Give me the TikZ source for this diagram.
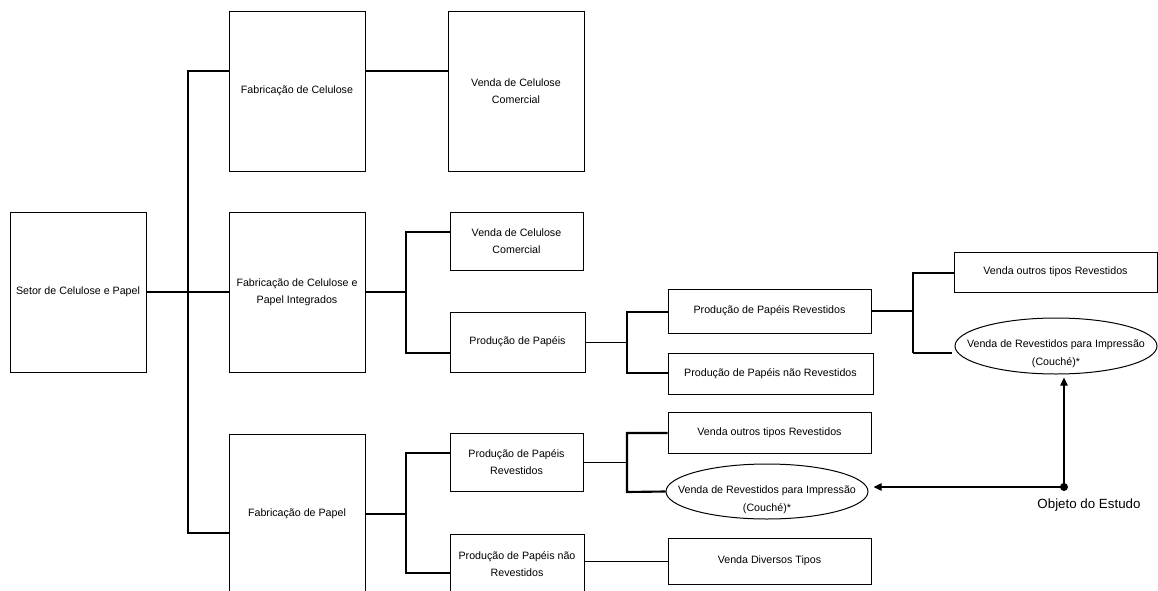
\documentclass[tikz,border=0pt]{standalone}
\usepackage{fontspec}
\setmainfont{Liberation Sans}
\usetikzlibrary{shapes.geometric,arrows.meta}
\tikzset{
  box/.style={draw, line width=0.75pt, rectangle, inner sep=0pt, align=center,
              font=\fontsize{8}{12.5}\selectfont},
  ell/.style={draw, line width=0.75pt, ellipse, inner sep=0pt},
  etxt/.style={align=center, inner sep=0pt, font=\fontsize{8}{13.5}\selectfont},
  thk/.style={line width=1.6pt},
  thn/.style={line width=0.6pt},
  arr/.style={line width=1pt, -{Triangle[length=6pt,width=5.5pt]}},
}
\begin{document}
\begin{tikzpicture}[x=0.75pt,y=-0.75pt]
\useasboundingbox (0,0) rectangle (1158,590);
\clip (0,0) rectangle (1158,590);
\fill[white] (0,0) rectangle (1158,590);

% column 1
\node[box, minimum width=102pt, minimum height=120pt] (setor) at (78,292) {Setor de Celulose e Papel};
% column 2
\node[box, minimum width=102pt, minimum height=120pt] (fabcel) at (297,91) {Fabricação de Celulose};
\node[box, minimum width=102pt, minimum height=120pt] (integ) at (297,292) {Fabricação de Celulose e\\Papel Integrados};
\node[box, minimum width=102pt, minimum height=120pt] (fabpap) at (297,514) {Fabricação de Papel};
% column 3
\node[box, minimum width=102pt, minimum height=120pt] (vcc1) at (516,91) {Venda de Celulose\\Comercial};
\node[box, minimum width=99.75pt, minimum height=43.5pt] (vcc2) at (516.5,241) {Venda de Celulose\\Comercial};
\node[box, minimum width=101.25pt, minimum height=45pt] (pp) at (517.5,342) {Produção de Papéis};
\node[box, minimum width=99.75pt, minimum height=43.5pt] (ppr2) at (516.5,462) {Produção de Papéis\\Revestidos};
\node[box, minimum width=100.5pt, minimum height=45pt] (ppnr2) at (517,564) {Produção de Papéis não\\Revestidos};
% column 4
\node[box, minimum width=152.25pt, minimum height=33pt] (ppr1) at (769.5,311) {Produção de Papéis Revestidos};
\node[box, minimum width=153.75pt, minimum height=30.75pt] (ppnr1) at (770.5,373.5) {Produção de Papéis não Revestidos};
\node[box, minimum width=152.25pt, minimum height=30.75pt] (vot2) at (769.5,432.5) {Venda outros tipos Revestidos};
\node[ell, minimum width=151.5pt, minimum height=41.25pt,
      label={[etxt, yshift=-6pt]center:Venda de Revestidos para Impressão\\(Couché)*}] (ell2) at (767,491.5) {};
\node[box, minimum width=152.25pt, minimum height=34.5pt] (vdt) at (769.5,561) {Venda Diversos Tipos};
% column 5
\node[box, minimum width=152.25pt, minimum height=30pt] (vot1) at (1055.5,272) {Venda outros tipos Revestidos};
\node[ell, minimum width=151.5pt, minimum height=42pt,
      label={[etxt, yshift=-6pt]center:Venda de Revestidos para Impressão\\(Couché)*}] (ell1) at (1056,346) {};
% objeto do estudo
\node[circle, fill, inner sep=0pt, minimum size=6pt] (dot) at (1064,487) {};
\node[inner sep=0pt, font=\fontsize{10}{12}\selectfont] (obj) at (1089,505) {Objeto do Estudo};

% junction points
\coordinate (j1a) at (188,71);
\coordinate (j1c) at (188,533);
\coordinate (j2a) at (406,232);
\coordinate (j2b) at (406,353);
\coordinate (j3a) at (406,453);
\coordinate (j3b) at (406,573);
\coordinate (j4a) at (627,312);
\coordinate (j4b) at (627,373);
\coordinate (j5a) at (913,273);
\coordinate (j5b) at (913,353);
\coordinate (j6a) at (627,433);
\coordinate (j6b) at (627,492);

% level 1
\draw[thk] (setor) -- (integ);
\draw[thk] (fabcel.west |- j1a) -- (j1a) -- (j1c) -- (fabpap.west |- j1c);
% fabricacao de celulose
\draw[thk] (fabcel.east |- j1a) -- (vcc1.west |- j1a);
% integrados
\draw[thk] (integ.east) -- (integ.east -| j2a);
\draw[thk] (vcc2.west |- j2a) -- (j2a) -- (j2b) -- (pp.west |- j2b);
% fabricacao de papel
\draw[thk] (fabpap.east) -- (fabpap.east -| j3a);
\draw[thk] (ppr2.west |- j3a) -- (j3a) -- (j3b) -- (ppnr2.west |- j3b);
% producao de papeis
\draw[thn] (pp.east) -- (pp.east -| j4a);
\draw[thk] (ppr1.west |- j4a) -- (j4a) -- (j4b) -- (ppnr1.west |- j4b);
% producao de papeis revestidos (upper)
\draw[thk] (ppr1.east) -- (ppr1.east -| j5a);
\draw[thk] (vot1.west |- j5a) -- (j5a) -- (j5b);
\draw[thk, shorten >=2pt] (j5b) -- (ell1.west |- j5b);
% producao de papeis revestidos (lower)
\draw[thn] (ppr2.east) -- (ppr2.east -| j6a);
\draw[thk] (vot2.west |- j6a) -- (j6a) -- (j6b) -- (ell2.west);
% producao de papeis nao revestidos (lower)
\draw[thn] (ppnr2.east |- vdt.west) -- (vdt.west);
% objeto do estudo arrows
\draw[arr, shorten >=2.25pt] (dot.center) -- (dot |- ell1.south);
\draw[arr, shorten >=3.75pt] (dot.center) -- (dot -| ell2.east);
\end{tikzpicture}
\end{document}
